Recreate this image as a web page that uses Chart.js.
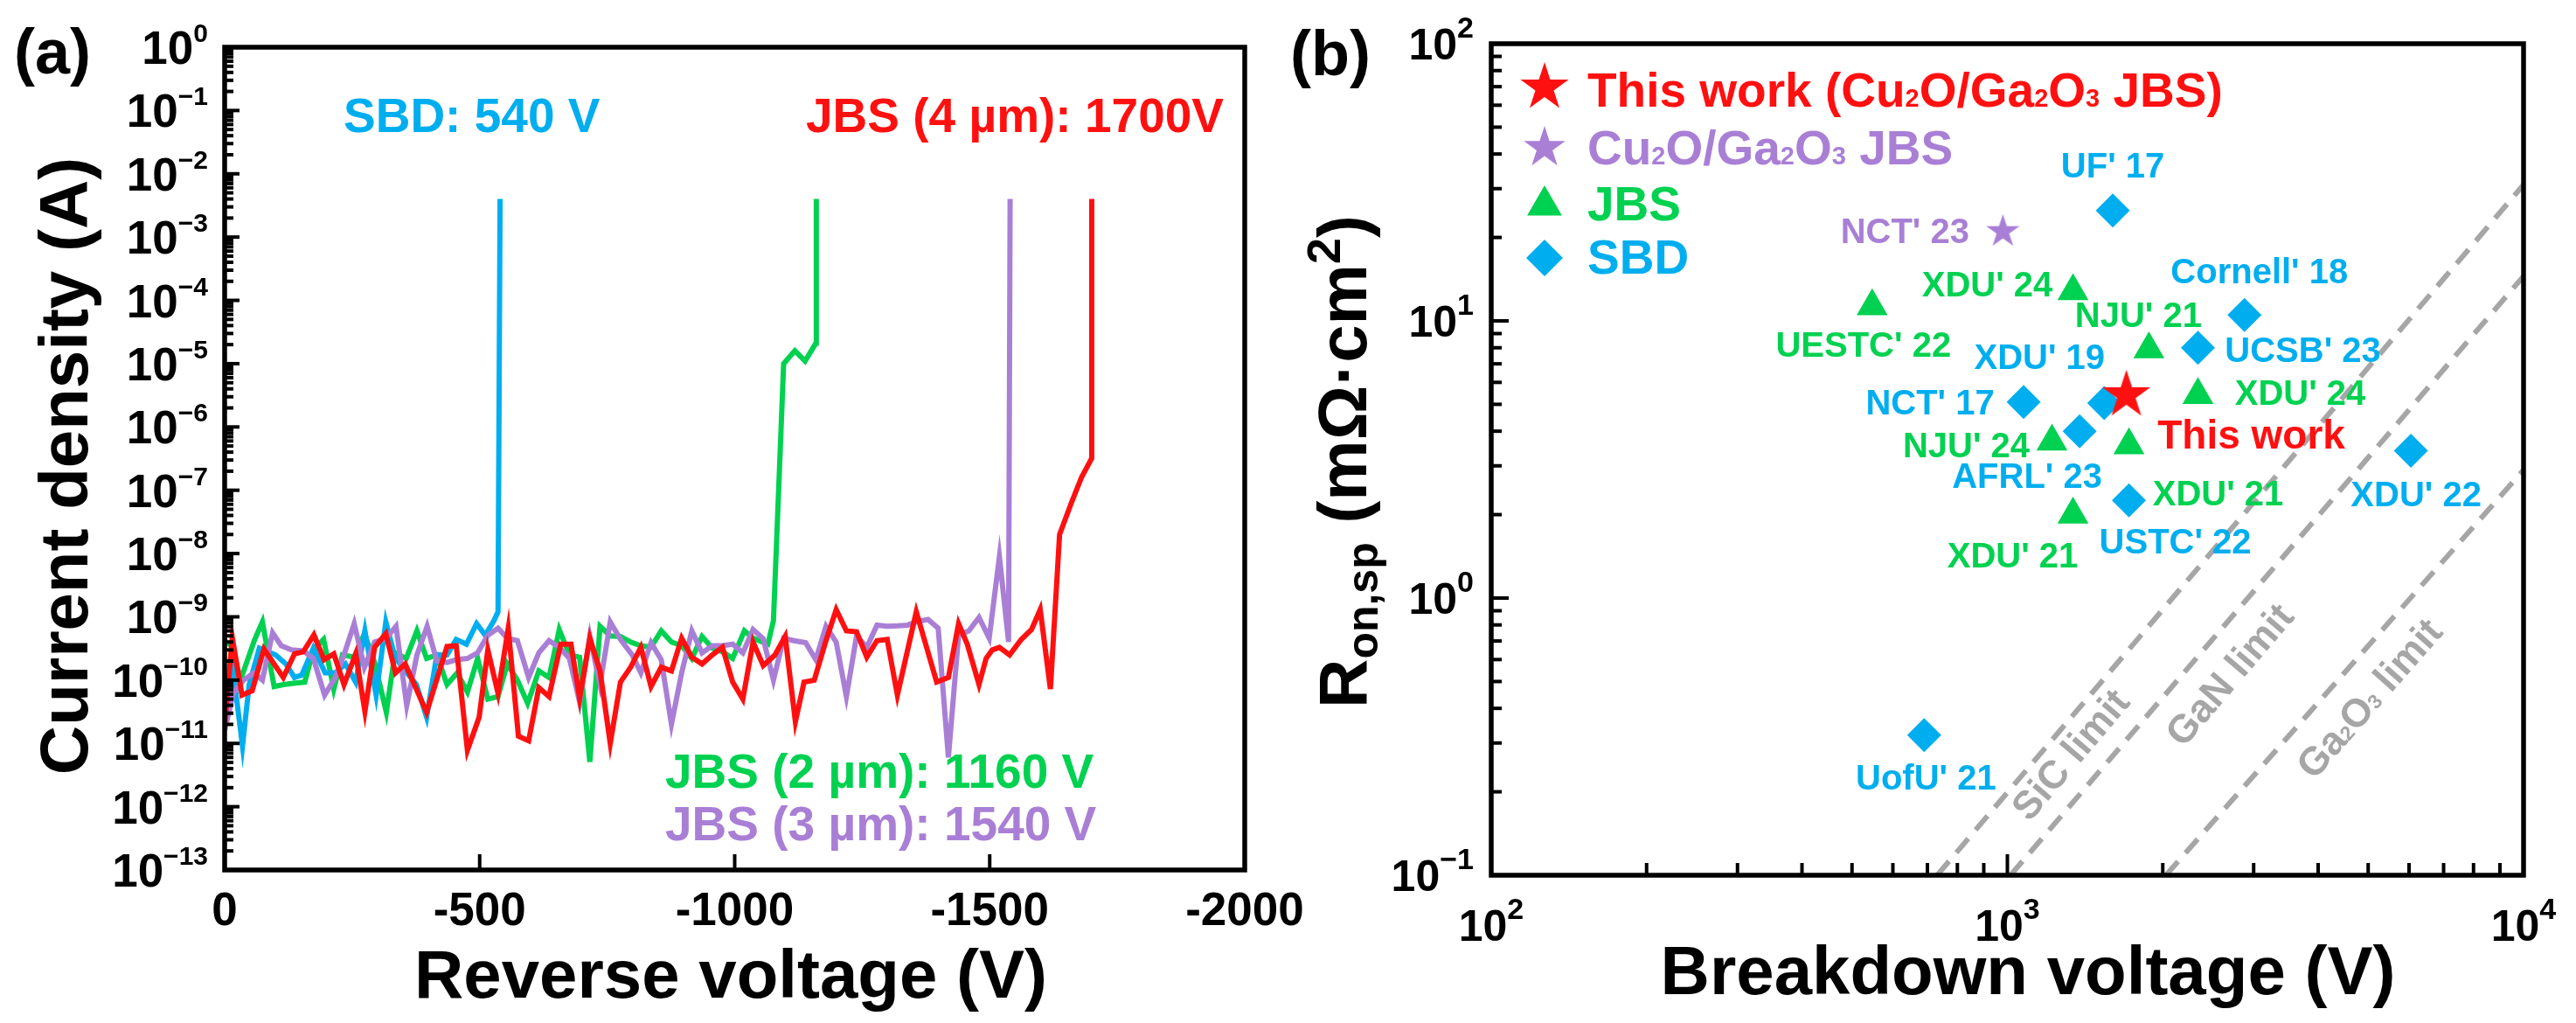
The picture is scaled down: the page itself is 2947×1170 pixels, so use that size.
<!DOCTYPE html>
<html>
<head>
<meta charset="utf-8">
<script src="https://cdn.jsdelivr.net/npm/chart.js@4.4.0/dist/chart.umd.min.js"></script>
<style>
  html, body { margin: 0; padding: 0; background: #fff; }
  body { width: 2947px; height: 1170px; position: relative; overflow: hidden; }
  canvas { position: absolute; left: 0; top: 0; }
</style>
</head>
<body>
<canvas id="chartA" width="2947" height="1170"></canvas>
<canvas id="chartB" width="2947" height="1170"></canvas>
<script>
// --- Data: panel (a), reverse I-V ---
const sbdV = [0, -15, -35, -48, -68, -100, -120, -137, -151, -174, -197, -217, -237, -257, -275, -297, -316, -334, -354, -376, -396, -416, -436, -454, -474, -494, -511, -528, -536, -540];
const sbdJ = [3.6e-11, 1.8e-10, 9.1e-12, 8.5e-11, 3.2e-10, 2.5e-10, 1.8e-10, 1.1e-10, 1.2e-10, 3.2e-10, 1.3e-10, 1.3e-10, 1.8e-10, 9.3e-11, 6.0e-10, 5.8e-11, 8.3e-10, 2.3e-10, 1.4e-10, 8.5e-11, 2.6e-11, 2.5e-10, 2.5e-10, 4.4e-10, 3.7e-10, 7.8e-10, 5.1e-10, 8.7e-10, 1.2e-9, 4.0e-3];

const jbs2V = [0, -14, -31, -59, -74, -97, -115, -134, -157, -174, -194, -214, -231, -254, -274, -294, -317, -334, -356, -377, -396, -416, -436, -456, -476, -496, -516, -536, -554, -574, -594, -616, -636, -656, -676, -696, -716, -736, -756, -776, -796, -816, -836, -856, -876, -896, -916, -936, -956, -976, -996, -1019, -1036, -1065, -1076, -1096, -1118, -1138, -1159, -1160];
const jbs2J = [4.2e-10, 3.5e-10, 1.0e-10, 4.4e-10, 8.3e-10, 7.9e-11, 8.5e-11, 8.9e-11, 9.3e-11, 3.0e-10, 4.4e-10, 7.2e-11, 2.5e-10, 2.3e-10, 5.4e-10, 1.9e-10, 3.1e-11, 2.7e-10, 2.2e-10, 6.0e-10, 2.2e-10, 2.5e-10, 8.5e-11, 1.3e-10, 6.5e-11, 2.2e-10, 5.0e-11, 5.5e-11, 1.8e-10, 1.0e-10, 4.3e-11, 1.4e-10, 1.1e-10, 6.3e-10, 2.5e-10, 2.3e-10, 5.1e-12, 7.1e-10, 5.0e-10, 4.9e-10, 4.0e-10, 3.5e-10, 3.3e-10, 6.0e-10, 4.0e-10, 3.5e-10, 2.2e-10, 4.9e-10, 3.2e-10, 2.8e-10, 2.2e-10, 6.0e-10, 4.6e-10, 3.7e-10, 8.7e-10, 1.0e-5, 1.6e-5, 1.1e-5, 2.1e-5, 4.0e-3];

const jbs3V = [0, -17, -37, -57, -74, -94, -111, -131, -154, -174, -196, -217, -234, -254, -274, -294, -316, -336, -357, -377, -397, -416, -436, -454, -476, -496, -516, -536, -554, -574, -596, -616, -636, -656, -676, -696, -716, -736, -756, -776, -799, -816, -836, -856, -876, -896, -916, -936, -956, -976, -996, -1016, -1036, -1056, -1076, -1096, -1116, -1139, -1159, -1179, -1199, -1219, -1239, -1259, -1279, -1299, -1319, -1339, -1359, -1379, -1399, -1419, -1439, -1459, -1479, -1499, -1519, -1537, -1540];
const jbs3J = [1.6e-11, 6.3e-11, 1.0e-10, 1.3e-10, 1.0e-10, 5.6e-10, 3.5e-10, 3.0e-10, 2.9e-10, 2.2e-10, 5.8e-11, 1.1e-10, 2.5e-10, 7.8e-10, 1.6e-10, 4.0e-10, 4.5e-10, 7.1e-10, 4.0e-11, 2.5e-10, 7.1e-10, 2.0e-10, 1.9e-10, 2.1e-10, 2.2e-10, 2.7e-10, 5.1e-10, 6.6e-10, 4.6e-10, 4.2e-10, 1.1e-10, 2.7e-10, 4.2e-10, 3.3e-10, 2.2e-10, 4.5e-11, 4.9e-10, 8.5e-11, 8.3e-10, 4.4e-10, 2.5e-10, 1.3e-10, 3.9e-10, 2.1e-10, 2.0e-11, 1.3e-10, 6.0e-10, 2.7e-10, 3.5e-10, 3.5e-10, 3.7e-10, 2.7e-10, 6.3e-10, 4.5e-10, 1.0e-10, 4.6e-10, 4.2e-10, 3.9e-10, 2.1e-10, 7.1e-10, 4.0e-10, 5.5e-11, 5.0e-10, 3.3e-10, 7.4e-10, 7.1e-10, 7.2e-10, 7.4e-10, 8.5e-10, 9.1e-10, 6.6e-10, 6.0e-12, 5.1e-10, 6.0e-10, 9.8e-10, 4.6e-10, 8.9e-9, 4.0e-10, 4.0e-3];

const jbs4V = [0, -15, -34, -54, -77, -115, -137, -154, -175, -195, -214, -234, -257, -275, -294, -316, -335, -354, -396, -436, -454, -476, -499, -516, -536, -556, -576, -596, -616, -636, -659, -679, -696, -716, -736, -756, -776, -796, -816, -836, -856, -876, -896, -916, -936, -956, -976, -996, -1016, -1036, -1056, -1079, -1099, -1119, -1136, -1156, -1179, -1199, -1219, -1239, -1259, -1279, -1299, -1319, -1356, -1396, -1419, -1439, -1456, -1479, -1493, -1505, -1519, -1539, -1562, -1582, -1599, -1619, -1637, -1660, -1680, -1700, -1700];
const jbs4J = [1.9e-11, 4.7e-10, 5.8e-11, 6.8e-11, 3.1e-10, 1.1e-10, 2.6e-10, 2.8e-10, 5.2e-10, 2.1e-10, 2.6e-10, 8.5e-11, 2.6e-10, 3.2e-11, 3.3e-10, 5.4e-10, 1.3e-10, 1.8e-10, 3.1e-11, 3.4e-10, 3.5e-10, 7.8e-12, 2.6e-11, 3.0e-10, 6.2e-11, 6.6e-10, 1.3e-11, 1.1e-11, 7.6e-11, 5.5e-11, 3.7e-10, 3.7e-10, 5.2e-11, 4.6e-10, 1.4e-10, 1.0e-11, 9.3e-11, 1.6e-10, 3.3e-10, 7.9e-11, 1.6e-10, 1.4e-10, 4.6e-10, 2.3e-10, 1.8e-10, 2.5e-10, 3.3e-10, 9.3e-11, 5.0e-11, 4.0e-10, 1.7e-10, 2.5e-10, 4.9e-10, 2.2e-11, 9.3e-11, 1.0e-10, 4.2e-10, 1.3e-9, 6.0e-10, 5.8e-10, 2.3e-10, 4.2e-10, 4.4e-10, 5.8e-11, 1.2e-9, 9.3e-11, 1.1e-10, 7.8e-10, 3.7e-10, 8.5e-11, 2.2e-10, 3.0e-10, 3.3e-10, 2.5e-10, 4.4e-10, 6.3e-10, 1.3e-9, 7.2e-11, 2.0e-8, 6.3e-8, 1.6e-7, 3.2e-7, 4.0e-3];

const aXTicks = [0, -500, -1000, -1500, -2000];
const aYExponents = [0, -1, -2, -3, -4, -5, -6, -7, -8, -9, -10, -11, -12, -13];

// --- Data: panel (b), benchmark ---
const thisWorkBV = [1700];
const thisWorkRon = [5.4];
const cuBV = [980];
const cuRon = [21];
const cuNames = ["NCT' 23"];
const jbsBV = [1340, 547, 1880, 2340, 1220, 1720, 1340];
const jbsRon = [12.8, 11.3, 7.9, 5.4, 3.67, 3.56, 2.0];
const jbsNames = ["XDU' 24", "UESTC' 22", "NJU' 21", "XDU' 24", "NJU' 24", "XDU' 21", "XDU' 21"];
const sbdBV = [1600, 2880, 2340, 1540, 1075, 1380, 1720, 6050, 690];
const sbdRon = [25, 10.5, 8.0, 5.05, 5.1, 4.0, 2.25, 3.4, 0.32];
const sbdNames = ["UF' 17", "Cornell' 18", "UCSB' 23", "XDU' 19", "NCT' 17", "AFRL' 23", "USTC' 22", "XDU' 22", "UofU' 21"];

const sicBV = [731, 10000];
const sicRon = [0.1, 31];
const ganBV = [1014, 10000];
const ganRon = [0.1, 14.5];
const gaoBV = [2028, 10000];
const gaoRon = [0.1, 2.9];
// anchors (data units) for the rotated limit captions
const limitAnchorBV = [1321, 2685, 5012];
const limitAnchorRon = [0.274, 0.532, 0.437];

const bXExponents = [2, 3, 4];
const bYExponents = [2, 1, 0, -1];

// --- Label offsets in px (layout only) ---
const cuLabelOffsets = [[-112, 2]];
const jbsLabelOffsets = [[-98, -5], [-10, 47], [-12, -36], [117, 0], [-98, 7], [102, 58], [-69, 49]];
const sbdLabelOffsets = [[0, -49], [17, -47], [120, 5], [-74, -50], [-107, 3], [-60, 54], [53, 50], [6, 52], [2, 51]];
const thisWorkLabelOffset = [143, 48];

// --- Styles ---
const FONT = '"Liberation Sans", Arial, Helvetica, sans-serif';
const BLUE = '#00AEEF';
const GREEN = '#00D150';
const PURPLE = '#A97FD6';
const RED = '#FF1010';
const GRAY = '#A6A6A6';
const MINUS = '\u2212';

// --- Helpers ---
function setFont(ctx, size) {
  ctx.font = 'bold ' + size + 'px ' + FONT;
}

function drawRich(ctx, parts, x, y, align) {
  let w = 0;
  parts.forEach(p => { setFont(ctx, p.size); w += ctx.measureText(p.t).width; });
  let cx = align === 'right' ? x - w : align === 'center' ? x - w / 2 : x;
  ctx.textAlign = 'left';
  ctx.textBaseline = 'alphabetic';
  parts.forEach(p => {
    setFont(ctx, p.size);
    ctx.fillText(p.t, cx, y + (p.dy || 0));
    cx += ctx.measureText(p.t).width;
  });
}

function seg(ctx, x1, y1, x2, y2) {
  ctx.beginPath();
  ctx.moveTo(x1, y1);
  ctx.lineTo(x2, y2);
  ctx.stroke();
}

function supText(e) {
  return e < 0 ? MINUS + (-e) : String(e);
}

function starCanvas(R, color) {
  const c = document.createElement('canvas');
  const s = Math.ceil(2 * R + 4);
  c.width = s;
  c.height = s;
  const g = c.getContext('2d');
  g.fillStyle = color;
  g.beginPath();
  for (let i = 0; i < 10; i++) {
    const r = i % 2 === 0 ? R : R * 0.382;
    const a = -Math.PI / 2 + i * Math.PI / 5;
    g.lineTo(s / 2 + r * Math.cos(a), s / 2 + r * Math.sin(a));
  }
  g.closePath();
  g.fill();
  return c;
}

function drawTriangle(ctx, x, y, r, color) {
  ctx.fillStyle = color;
  ctx.beginPath();
  for (let i = 0; i < 3; i++) {
    const a = i * 2 * Math.PI / 3;
    ctx.lineTo(x + Math.sin(a) * r, y - Math.cos(a) * r);
  }
  ctx.closePath();
  ctx.fill();
}

function drawDiamond(ctx, x, y, r, color) {
  ctx.fillStyle = color;
  ctx.beginPath();
  ctx.moveTo(x - r, y);
  ctx.lineTo(x, y - r);
  ctx.lineTo(x + r, y);
  ctx.lineTo(x, y + r);
  ctx.closePath();
  ctx.fill();
}

function pts(xs, ys) {
  return xs.map((x, i) => ({ x, y: ys[i] }));
}

// chem formula parts with subscripts
function chem(str, size) {
  const out = [];
  str.split(/(_\d)/).forEach(s => {
    if (!s) return;
    if (s[0] === '_') out.push({ t: s[1], size: Math.round(size * 0.52) });
    else out.push({ t: s, size });
  });
  return out;
}

function makeLine(label, xs, ys, color, order) {
  return {
    label,
    data: pts(xs, ys),
    borderColor: color,
    backgroundColor: color,
    borderWidth: 6,
    pointRadius: 0,
    tension: 0,
    fill: false,
    order
  };
}

// --- Panel (a) decorations ---
const panelAPlugin = {
  id: 'panelA',
  afterDatasetsDraw(chart) {
    const { ctx, chartArea: a, scales: { x, y } } = chart;
    ctx.save();
    ctx.strokeStyle = '#000';
    ctx.lineWidth = 4;
    aYExponents.forEach(e => {
      const py = y.getPixelForValue(Math.pow(10, e));
      seg(ctx, a.left, py, a.left + 17, py);
      if (e < 0) {
        for (let m = 2; m <= 9; m++) {
          const p = y.getPixelForValue(m * Math.pow(10, e));
          seg(ctx, a.left, p, a.left + 10, p);
        }
      }
    });
    aXTicks.slice(1, -1).forEach(v => {
      const px = x.getPixelForValue(v);
      seg(ctx, px, a.bottom, px, a.bottom - 18);
    });
    ctx.lineWidth = 5.5;
    ctx.strokeRect(a.left, a.top, a.right - a.left, a.bottom - a.top);

    // tick labels
    ctx.fillStyle = '#000';
    aYExponents.forEach(e => {
      const py = y.getPixelForValue(Math.pow(10, e));
      drawRich(ctx, [{ t: '10', size: 53 }, { t: supText(e), size: 30, dy: -25 }], 238, py + 19, 'right');
    });
    setFont(ctx, 53);
    ctx.textAlign = 'center';
    ctx.textBaseline = 'alphabetic';
    aXTicks.forEach(v => {
      ctx.fillText(String(v), x.getPixelForValue(v), 1058);
    });

    // axis titles
    setFont(ctx, 78);
    ctx.fillText('Reverse voltage (V)', 836, 1141);
    ctx.save();
    ctx.translate(100, 533);
    ctx.rotate(-Math.PI / 2);
    ctx.textAlign = 'center';
    ctx.fillText('Current density (A)', 0, 0);
    ctx.restore();

    // panel tag
    setFont(ctx, 72);
    ctx.textAlign = 'left';
    ctx.fillText('(a)', 16, 84);

    // breakdown annotations
    setFont(ctx, 55);
    ctx.fillStyle = BLUE;
    ctx.fillText('SBD: 540 V', 393, 151);
    ctx.fillStyle = RED;
    ctx.textAlign = 'right';
    ctx.fillText('JBS (4 \u00b5m): 1700V', 1400, 151);
    ctx.textAlign = 'left';
    ctx.fillStyle = GREEN;
    ctx.fillText('JBS (2 \u00b5m): 1160 V', 761, 901);
    ctx.fillStyle = PURPLE;
    ctx.fillText('JBS (3 \u00b5m): 1540 V', 761, 961);
    ctx.restore();
  }
};

// --- Panel (b) decorations ---
const legendRedStar = starCanvas(29, RED);
const legendPurpleStar = starCanvas(25, PURPLE);

const panelBPlugin = {
  id: 'panelB',
  afterDatasetsDraw(chart) {
    const { ctx, chartArea: a, scales: { x, y } } = chart;
    ctx.save();

    // limit captions, rotated along their lines
    const limitLines = [[sicBV, sicRon], [ganBV, ganRon], [gaoBV, gaoRon]];
    const limitParts = [
      [{ t: 'SiC limit', size: 45 }],
      [{ t: 'GaN limit', size: 45 }],
      chem('Ga_2O_3 limit', 45)
    ];
    ctx.fillStyle = GRAY;
    limitLines.forEach((ln, i) => {
      const dx = x.getPixelForValue(ln[0][1]) - x.getPixelForValue(ln[0][0]);
      const dy = y.getPixelForValue(ln[1][1]) - y.getPixelForValue(ln[1][0]);
      ctx.save();
      ctx.translate(x.getPixelForValue(limitAnchorBV[i]), y.getPixelForValue(limitAnchorRon[i]));
      ctx.rotate(Math.atan2(dy, dx));
      drawRich(ctx, limitParts[i], 0, 16, 'center');
      ctx.restore();
    });

    // ticks and frame
    ctx.strokeStyle = '#000';
    ctx.lineWidth = 4;
    bYExponents.forEach(e => {
      const py = y.getPixelForValue(Math.pow(10, e));
      seg(ctx, a.left, py, a.left + 20, py);
      if (e < 2) {
        for (let m = 2; m <= 9; m++) {
          const p = y.getPixelForValue(m * Math.pow(10, e));
          seg(ctx, a.left, p, a.left + 12, p);
        }
      }
    });
    bXExponents.forEach(e => {
      const px = x.getPixelForValue(Math.pow(10, e));
      seg(ctx, px, a.bottom, px, a.bottom - 24);
      if (e < 4) {
        for (let m = 2; m <= 9; m++) {
          const p = x.getPixelForValue(m * Math.pow(10, e));
          seg(ctx, p, a.bottom, p, a.bottom - 14);
        }
      }
    });
    ctx.lineWidth = 5.5;
    ctx.strokeRect(a.left, a.top, a.right - a.left, a.bottom - a.top);

    // tick labels
    ctx.fillStyle = '#000';
    bYExponents.forEach(e => {
      const py = y.getPixelForValue(Math.pow(10, e));
      drawRich(ctx, [{ t: '10', size: 50 }, { t: supText(e), size: 34, dy: -25 }], 1686, py + 18, 'right');
    });
    bXExponents.forEach(e => {
      const px = x.getPixelForValue(Math.pow(10, e));
      drawRich(ctx, [{ t: '10', size: 50 }, { t: supText(e), size: 34, dy: -25 }], px, 1076, 'center');
    });

    // axis titles
    setFont(ctx, 78);
    ctx.textAlign = 'center';
    ctx.fillText('Breakdown voltage (V)', 2320, 1137);
    ctx.save();
    ctx.translate(1563, 528);
    ctx.rotate(-Math.PI / 2);
    drawRich(ctx, [
      { t: 'R', size: 78 },
      { t: 'on,sp', size: 50, dy: 13 },
      { t: ' (m\u03a9\u00b7cm', size: 78 },
      { t: '2', size: 54, dy: -30 },
      { t: ')', size: 78 }
    ], 0, 0, 'center');
    ctx.restore();

    // panel tag
    setFont(ctx, 72);
    ctx.textAlign = 'left';
    ctx.fillText('(b)', 1476, 86);

    // legend
    const lx = 1767;
    ctx.drawImage(legendRedStar, lx - legendRedStar.width / 2, 100 - legendRedStar.height / 2);
    ctx.drawImage(legendPurpleStar, lx - legendPurpleStar.width / 2, 169 - legendPurpleStar.height / 2);
    drawTriangle(ctx, lx, 235, 23, GREEN);
    drawDiamond(ctx, lx, 295, 21, BLUE);
    ctx.fillStyle = RED;
    drawRich(ctx, [{ t: 'This work (', size: 55 }].concat(chem('Cu_2O/Ga_2O_3 JBS)', 55)), 1816, 122, 'left');
    ctx.fillStyle = PURPLE;
    drawRich(ctx, chem('Cu_2O/Ga_2O_3 JBS', 55), 1816, 188, 'left');
    ctx.fillStyle = GREEN;
    drawRich(ctx, [{ t: 'JBS', size: 55 }], 1816, 252, 'left');
    ctx.fillStyle = BLUE;
    drawRich(ctx, [{ t: 'SBD', size: 55 }], 1816, 313, 'left');

    // point labels
    ctx.textAlign = 'center';
    ctx.textBaseline = 'middle';
    setFont(ctx, 40);
    const groups = [
      [cuBV, cuRon, cuNames, cuLabelOffsets, PURPLE],
      [jbsBV, jbsRon, jbsNames, jbsLabelOffsets, GREEN],
      [sbdBV, sbdRon, sbdNames, sbdLabelOffsets, BLUE]
    ];
    groups.forEach(([xs, ys, names, offs, color]) => {
      ctx.fillStyle = color;
      names.forEach((name, i) => {
        ctx.fillText(name, x.getPixelForValue(xs[i]) + offs[i][0], y.getPixelForValue(ys[i]) + offs[i][1]);
      });
    });
    setFont(ctx, 46);
    ctx.fillStyle = RED;
    ctx.fillText('This work', x.getPixelForValue(thisWorkBV[0]) + thisWorkLabelOffset[0],
      y.getPixelForValue(thisWorkRon[0]) + thisWorkLabelOffset[1]);
    ctx.restore();
  }
};

// --- Charts ---
const commonOptions = {
  responsive: false,
  animation: false,
  devicePixelRatio: 1,
  events: [],
  plugins: { legend: { display: false }, tooltip: { enabled: false } }
};

new Chart(document.getElementById('chartA'), {
  type: 'line',
  data: {
    datasets: [
      makeLine('JBS (4 \u00b5m)', jbs4V, jbs4J, RED, 1),
      makeLine('JBS (3 \u00b5m)', jbs3V, jbs3J, PURPLE, 2),
      makeLine('SBD', sbdV, sbdJ, BLUE, 3),
      makeLine('JBS (2 \u00b5m)', jbs2V, jbs2J, GREEN, 4)
    ]
  },
  options: Object.assign({}, commonOptions, {
    layout: { padding: { left: 257, right: 2947 - 1424, top: 54, bottom: 1170 - 995 } },
    scales: {
      x: { type: 'linear', min: -2000, max: 0, reverse: true, display: false },
      y: { type: 'logarithmic', min: 1e-13, max: 1, display: false }
    }
  }),
  plugins: [panelAPlugin]
});

const limitStyle = { showLine: true, pointRadius: 0, borderColor: GRAY, borderWidth: 6, borderDash: [21, 13], order: 5 };

new Chart(document.getElementById('chartB'), {
  type: 'scatter',
  data: {
    datasets: [
      { label: 'This work (Cu2O/Ga2O3 JBS)', data: pts(thisWorkBV, thisWorkRon), pointStyle: starCanvas(29, RED), pointRadius: 29, order: 1 },
      { label: 'Cu2O/Ga2O3 JBS', data: pts(cuBV, cuRon), pointStyle: starCanvas(20, PURPLE), pointRadius: 20, order: 2 },
      { label: 'JBS', data: pts(jbsBV, jbsRon), pointStyle: 'triangle', pointRadius: 20.5, backgroundColor: GREEN, borderColor: GREEN, borderWidth: 0, order: 3 },
      { label: 'SBD', data: pts(sbdBV, sbdRon), pointStyle: 'rectRot', pointRadius: 19.5, backgroundColor: BLUE, borderColor: BLUE, borderWidth: 0, order: 4 },
      Object.assign({ label: 'SiC limit', data: pts(sicBV, sicRon) }, limitStyle),
      Object.assign({ label: 'GaN limit', data: pts(ganBV, ganRon) }, limitStyle),
      Object.assign({ label: 'Ga2O3 limit', data: pts(gaoBV, gaoRon) }, limitStyle)
    ]
  },
  options: Object.assign({}, commonOptions, {
    layout: { padding: { left: 1706, right: 2947 - 2887, top: 50, bottom: 1170 - 1001 } },
    scales: {
      x: { type: 'logarithmic', min: 100, max: 10000, display: false },
      y: { type: 'logarithmic', min: 0.1, max: 100, display: false }
    }
  }),
  plugins: [panelBPlugin]
});
</script>
</body>
</html>
